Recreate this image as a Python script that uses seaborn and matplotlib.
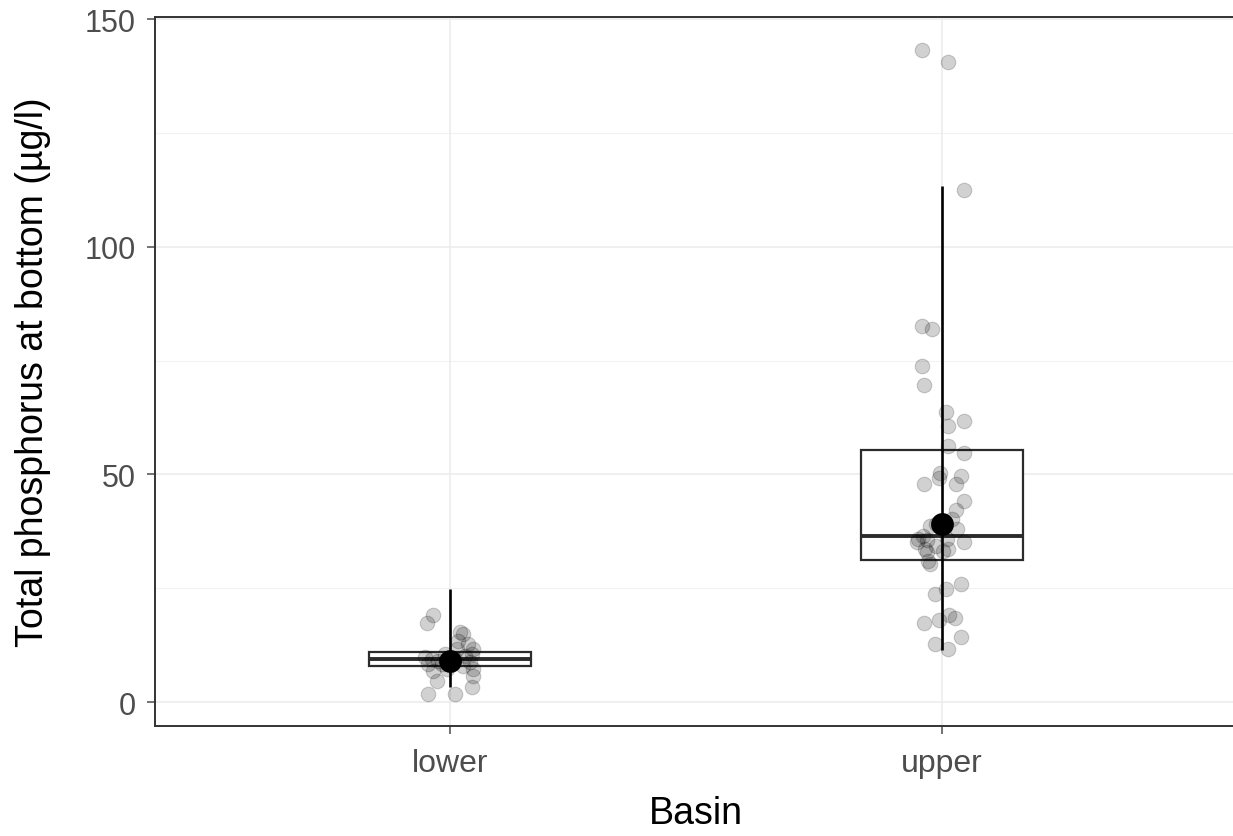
import numpy as np
import pandas as pd
import matplotlib
matplotlib.use("Agg")
import matplotlib.pyplot as plt
import seaborn as sns

# Categories
basins = ["lower", "upper"]

# Observed total phosphorus at bottom (µg/l) and horizontal jitter per sample
lower_tp = [19.1, 17.4, 15.3, 14.9, 13.5, 12.7, 11.6, 11.6, 10.5, 10.2, 9.8, 9.4,
            9.1, 9.4, 8.7, 8.3, 8.3, 8.0, 7.2, 6.9, 4.7, 5.8, 3.2, 1.8, 1.8, 7.2, 10.5]
lower_jit = [-0.034, -0.047, 0.020, 0.027, 0.017, 0.037, 0.047, 0.014, 0.044, 0.030,
             -0.051, -0.037, -0.024, 0.010, 0.041, -0.044, -0.017, 0.027, 0.047,
             -0.034, -0.027, 0.047, 0.044, -0.044, 0.009, -0.007, -0.010]
upper_tp = [143.2, 140.5, 112.5, 82.6, 81.9, 73.9, 69.7, 63.6, 61.7, 60.6, 56.3,
            54.7, 50.3, 49.7, 49.2, 47.9, 47.9, 44.1, 42.2, 40.2, 39.1, 38.7, 38.0,
            36.5, 35.8, 35.6, 35.8, 35.1, 35.1, 34.2, 33.6, 33.6, 33.2, 32.9, 31.0,
            30.3, 25.9, 24.8, 23.7, 19.1, 18.4, 17.9, 17.4, 14.3, 12.7, 11.6]
upper_jit = [-0.041, 0.013, 0.045, -0.041, -0.020, -0.041, -0.036, 0.008, 0.045,
             0.013, 0.013, 0.045, -0.004, 0.039, -0.006, -0.036, 0.028, 0.045, 0.028,
             0.020, -0.011, -0.024, 0.030, -0.038, -0.048, -0.031, 0.010, 0.045,
             -0.051, -0.011, -0.035, 0.013, 0.003, -0.031, -0.028, -0.024, 0.039,
             0.008, -0.014, 0.015, 0.026, -0.005, -0.036, 0.039, -0.014, 0.013]

# Summary statistics per basin
box_q1 = [7.9, 31.2]
box_median = [9.4, 36.5]
box_q3 = [11.0, 55.3]
range_lo = [3.3, 11.5]
range_hi = [24.8, 113.3]
center_value = [9.0, 39.1]

y_ticks = [0, 50, 100, 150]

df = pd.DataFrame({
    "Basin": ["lower"] * len(lower_tp) + ["upper"] * len(upper_tp),
    "TP": lower_tp + upper_tp,
    "jit": lower_jit + upper_jit,
})
df["xpos"] = df["Basin"].map({b: i for i, b in enumerate(basins)}) + df["jit"]

sns.set_theme(style="white")
plt.rcParams["font.family"] = ["Liberation Sans", "DejaVu Sans"]

fig = plt.figure(figsize=(12.33, 8.37), dpi=100)
W, H = 1233, 837
ax = fig.add_axes([155 / W, (H - 727) / H, (1237 - 155) / W, (727 - 18) / H])

# grid
for v in [25, 75, 125]:
    ax.axhline(v, color="#f2f2f2", lw=0.8, zorder=0)
for v in y_ticks:
    ax.axhline(v, color="#ebebeb", lw=1.1, zorder=0)
for i in range(len(basins)):
    ax.axvline(i, color="#ebebeb", lw=1.1, zorder=0)

# boxes
stats = [
    {"q1": box_q1[i], "med": box_median[i], "q3": box_q3[i],
     "whislo": box_q1[i], "whishi": box_q3[i], "fliers": []}
    for i in range(len(basins))
]
ax.bxp(stats, positions=range(len(basins)), widths=0.33, showcaps=False,
       showfliers=False, patch_artist=True,
       boxprops=dict(facecolor="white", edgecolor="#2b2b2b", linewidth=1.6),
       medianprops=dict(color="#2b2b2b", linewidth=2.8),
       whiskerprops=dict(linewidth=0), manage_ticks=False, zorder=2)

# jittered samples
sns.scatterplot(data=df, x="xpos", y="TP", ax=ax, s=110, color="black",
                alpha=0.18, edgecolor="black", linewidth=0.8, zorder=3,
                legend=False)

# range lines and center points
ax.vlines(range(len(basins)), range_lo, range_hi, color="black", lw=1.9, zorder=4)
ax.scatter(range(len(basins)), center_value, s=270, color="black", zorder=5,
           linewidths=0)

ax.set_xlim(-0.6, 1.6)
ax.set_ylim(-5.27, 150.44)
ax.set_xticks(range(len(basins)))
ax.set_xticklabels(basins)
ax.set_yticks(y_ticks)
ax.tick_params(axis="both", colors="#4d4d4d", labelcolor="#4d4d4d",
               labelsize=22, length=6, width=1.1, direction="out",
               bottom=True, left=True)
ax.tick_params(axis="y", pad=8)
ax.tick_params(axis="x", pad=10, labelsize=23)
for side in ["left", "bottom", "top", "right"]:
    ax.spines[side].set_color("#333333")
    ax.spines[side].set_linewidth(1.4)

ax.set_xlabel("Basin", fontsize=27, color="black", labelpad=12)
ax.set_ylabel("Total phosphorus at bottom (µg/l)", fontsize=27, color="black",
              labelpad=24)

fig.savefig("out.png", dpi=100)
